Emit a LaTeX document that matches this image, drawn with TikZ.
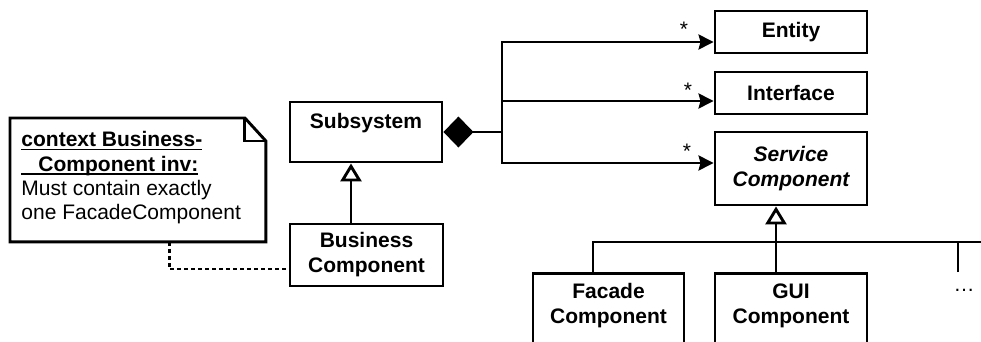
\documentclass[tikz,border=0pt]{standalone}
\usepackage{fontspec}
\setmainfont{Liberation Sans}
\usetikzlibrary{arrows.meta}
% underline at a fixed depth below the baseline
\newsavebox\ulsave
\newcommand{\ulline}[1]{\sbox\ulsave{#1}\rlap{\rule[-3.5pt]{\wd\ulsave}{1.7pt}}\usebox\ulsave}

\begin{document}
\begin{tikzpicture}[x=1pt,y=-1pt,
  line width=2.9pt,
  every node/.style={font=\fontsize{21}{25}\selectfont},
  cls/.style={draw, rectangle, line width=2.9pt, inner sep=0pt, align=center,
              font=\fontsize{21}{25}\selectfont\bfseries},
  frame/.style={draw, rectangle, line width=2.9pt, inner sep=0pt},
  lbl/.style={inner sep=0pt, align=center, font=\fontsize{21}{25}\selectfont\bfseries},
  assoc/.style={-{Stealth[length=15pt,width=15pt,inset=2pt]}},
  gen/.style={-{Triangle[open,length=18pt,width=21pt,fill=white]}},
  comp/.style={{Diamond[length=30pt,width=31pt]}-},
  mult/.style={inner sep=0pt, font=\fontsize{21}{25}\selectfont},
]
\useasboundingbox (0,0) rectangle (981,342);
\clip (0,0) rectangle (981,342);

% classes
\node[cls, minimum width=152, minimum height=42] (ent) at (791,32) {Entity};
\node[cls, minimum width=152, minimum height=42] (ifc) at (791,93) {Interface};
\node[cls, minimum width=152, minimum height=73,
      font=\fontsize{21}{25}\selectfont\bfseries\itshape] (svc) at (791,168.5) {Service\\Component};
\node[frame, minimum width=152, minimum height=60] (sub) at (366,132) {};
\node[lbl] (subt) at (366,123) {Subsystem};
\node[cls, minimum width=153, minimum height=62] (bc) at (366.5,255) {Business\\Component};
\node[frame, minimum width=151, minimum height=100, anchor=north] (fac) at (608.5,272) {};
\node[lbl] (fact) at (608.5,305.5) {Facade\\Component};
\node[frame, minimum width=152, minimum height=100, anchor=north] (gui) at (791,272) {};
\node[lbl] (guit) at (791,305.5) {GUI\\Component};

% OCL note with folded corner
\node[minimum width=253, minimum height=121, anchor=north west, inner sep=0pt] (note) at (10,118) {};
\draw (note.north west) -- ([xshift=-21pt]note.north east) -- ([yshift=-23pt]note.north east)
      -- (note.south east) -- (note.south west) -- cycle;
\draw ([xshift=-21pt]note.north east) -- ([xshift=-21pt,yshift=-23pt]note.north east)
      -- ([yshift=-23pt]note.north east);
\node[anchor=west, align=left, inner sep=0pt, font=\fontsize{21}{24.3}\selectfont] (notet) at (20,178)
  {\ulline{\bfseries context Business-}\\
   \ulline{\hspace*{17pt}\bfseries Component inv:}\\
   Must contain exactly\\
   one FacadeComponent};
\draw[dash pattern=on 4pt off 3pt, line width=2.4pt] ([xshift=31.5pt]note.south) |- ([yshift=-14pt]bc.west);

% generalization Business Component -> Subsystem
\draw[gen] ([xshift=-15.5pt]bc.north) -- ([xshift=-15pt]sub.south);

% composition Subsystem -> Entity / Interface / Service Component
\coordinate (hub) at (502,132);
\draw[comp] (sub.east) -- (hub);
\draw[assoc] (hub) |- ([yshift=-10pt]ent.west);
\draw[assoc] (hub) |- ([yshift=-8pt]ifc.west);
\draw[assoc] (hub) |- ([yshift=5.5pt]svc.west);
\node[mult] (m1) at (684,29) {*};
\node[mult] (m2) at (688,90) {*};
\node[mult] (m3) at (687,151) {*};

% specializations of Service Component
\draw[gen] ([xshift=-15pt]gui.north) -- ([xshift=-15pt]svc.south);
\coordinate (barR) at (990,242);
\draw ([xshift=-15.5pt]fac.north) |- (barR);
\coordinate (more) at (958,272);
\draw (more) -- (more |- barR);
\node[inner sep=0pt] (dots) at (964,290) {…};
\end{tikzpicture}
\end{document}
